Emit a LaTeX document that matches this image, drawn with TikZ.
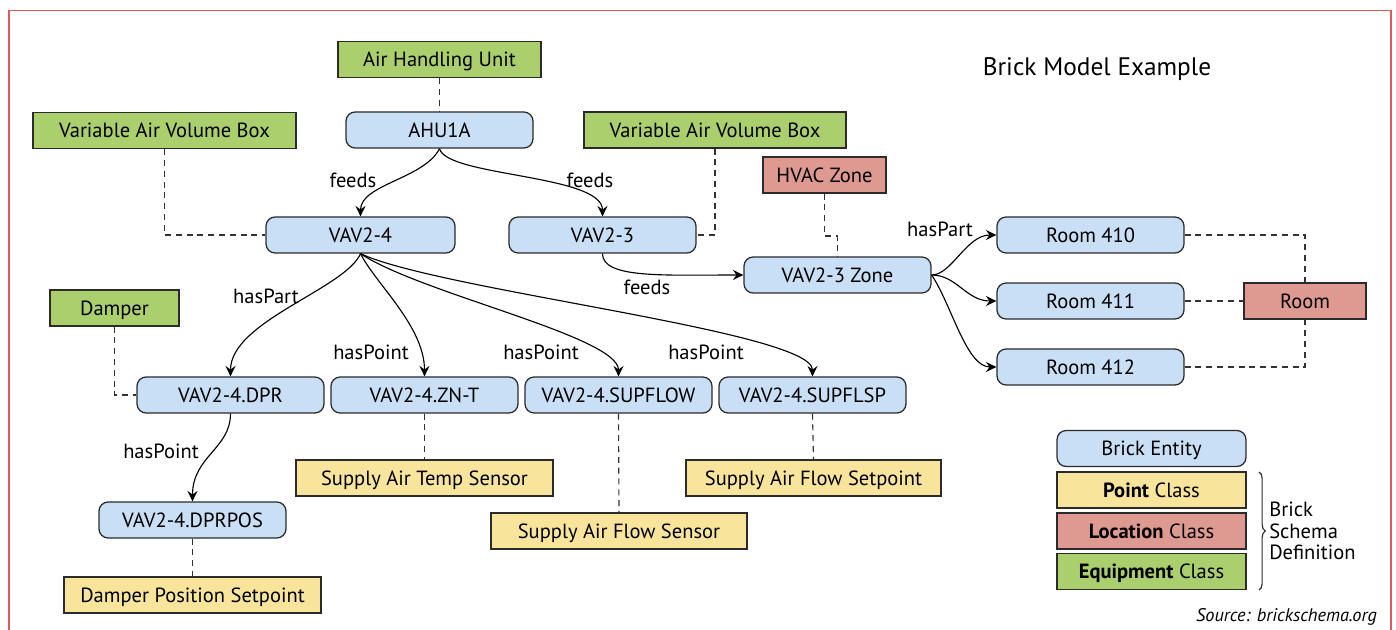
\documentclass[tikz,border=0pt]{standalone}
\usepackage{fontspec}
\setmainfont{PT Sans}
\usetikzlibrary{arrows.meta,decorations.pathreplacing}

\definecolor{entc}{HTML}{C9DFF5}
\definecolor{equipc}{HTML}{AACF6C}
\definecolor{locc}{HTML}{DE9A91}
\definecolor{pointc}{HTML}{F8E59B}
\definecolor{linec}{HTML}{2B2B2B}
\definecolor{dashc}{HTML}{333333}
\definecolor{framec}{HTML}{DD5A5A}

\tikzset{
  txt/.style={font=\fontsize{14.6}{17}\selectfont, text=black},
  boxtxt/.style={txt, text height=10.2pt, text depth=0pt},
  ent/.style={boxtxt, draw=linec, fill=entc, line width=0.9pt, rounded corners=2.3mm,
              minimum height=0.9cm, minimum width=4.675cm, inner sep=0pt},
  cls/.style={boxtxt, draw=linec, fill=#1, line width=0.9pt,
              minimum height=0.9cm, inner sep=0pt},
  wd/.style={minimum width=#1*0.025cm},
  rel/.style={draw=black, line width=0.8pt,
              -{Stealth[length=2.6mm,width=2.5mm,inset=0.9mm]}},
  link/.style={draw=dashc, line width=0.8pt, dash pattern=on 1.5mm off 1.2mm},
  lbl/.style={txt, inner sep=0pt},
}

\begin{document}
\begin{tikzpicture}[x=0.025cm, y=-0.025cm]
\useasboundingbox (0,0) rectangle (1396,630);

% outer frame (open at the bottom)
\draw[framec, line width=1.1pt] (9,630) -- (9,10.5) -- (1391,10.5) -- (1391,630);

% title
\node[lbl, font=\fontsize{18}{21}\selectfont] (title) at (1097,69) {Brick Model Example};

% classes
\node[cls=equipc, wd=203] (ahucls) at (439.5,59.5) {Air Handling Unit};
\node[cls=equipc, wd=263] (vavclsL) at (164.5,130.5) {Variable Air Volume Box};
\node[cls=equipc, wd=262] (vavclsR) at (715,130) {Variable Air Volume Box};
\node[cls=locc, wd=123] (hvaczone) at (824.5,175) {HVAC Zone};
\node[cls=locc, wd=122] (roomcls) at (1305,301) {Room};
\node[cls=equipc, wd=129] (dampercls) at (114.5,308) {Damper};
\node[cls=pointc, wd=257] (tempsens) at (424.5,478) {Supply Air Temp Sensor};
\node[cls=pointc, wd=255] (flowsp) at (813.5,478) {Supply Air Flow Setpoint};
\node[cls=pointc, wd=256] (flowsens) at (619,531) {Supply Air Flow Sensor};
\node[cls=pointc, wd=257] (dprsp) at (192.5,595) {Damper Position Setpoint};

% entities
\node[ent] (ahu) at (439.5,130) {AHU1A};
\node[ent, wd=189] (vav4) at (360.5,235) {VAV2-4};
\node[ent] (vav3) at (602.5,235) {VAV2-3};
\node[ent] (zone) at (837.5,275) {VAV2-3 Zone};
\node[ent] (r410) at (1090.5,235) {Room 410};
\node[ent] (r411) at (1090.5,301) {Room 411};
\node[ent] (r412) at (1090.5,367) {Room 412};
\node[ent] (dpr) at (230.5,395) {VAV2-4.DPR};
\node[ent] (znt) at (424.5,395) {VAV2-4.ZN-T};
\node[ent] (supflow) at (618.5,395) {VAV2-4.SUPFLOW};
\node[ent] (supflsp) at (812.5,395) {VAV2-4.SUPFLSP};
\node[ent] (dprpos) at (192.5,520) {VAV2-4.DPRPOS};

% type links
\draw[link] (ahucls) -- (ahu);
\draw[link] (vavclsL.south) |- (vav4.west);
\draw[link] (vavclsR.south) |- (vav3.east);
\coordinate (zonejog) at (837.5,236);
\draw[link] (hvaczone.south) |- (zonejog) -- (zone.north);
\draw[link] (r410.east) -| (roomcls.north);
\draw[link] (r411.east) -- (roomcls.west);
\draw[link] (r412.east) -| (roomcls.south);
\draw[link] (dampercls.south) |- (dpr.west);
\draw[link] (znt.south) -- (tempsens.north);
\draw[link] (supflow.south) -- (flowsens.north);
\draw[link] (supflsp.south) -- (flowsp.north);
\draw[link] (dprpos.south) -- (dprsp.north);

% relationships
\draw[rel] (ahu.south) .. controls +(-15,30) and +(0,-32) .. (vav4.north);
\draw[rel] (ahu.south) .. controls +(7,28) and +(0,-42) .. (vav3.north);
\draw[rel] (vav3.south) .. controls +(0,25) and +(-80,0) .. (zone.west);
\draw[rel] (vav4.south) .. controls +(-15,35) and +(0,-55) .. (dpr.north);
\draw[rel] (vav4.south) .. controls +(15,30) and +(0,-50) .. (znt.north);
\draw[rel] (vav4.south) .. controls +(60,40) and +(0,-40) .. (supflow.north);
\draw[rel] (vav4.south) .. controls +(79,37) and +(0,-45) .. (supflsp.north);
\draw[rel] (dpr.south) .. controls +(0,35) and +(0,-45) .. (dprpos.north);
\draw[rel] (zone.east) .. controls +(20,0) and +(-30,0) .. (r410.west);
\draw[rel] (zone.east) .. controls +(25,0) and +(-30,0) .. (r411.west);
\draw[rel] (zone.east) .. controls +(20,30) and +(-30,0) .. (r412.west);

% relationship labels
\node[lbl] (l1) at (353,180) {feeds};
\node[lbl] (l2) at (590,180) {feeds};
\node[lbl] (l3) at (647,287) {feeds};
\node[lbl] (l4) at (940,229) {hasPart};
\node[lbl] (l5) at (266,296) {hasPart};
\node[lbl] (l6) at (371,352) {hasPoint};
\node[lbl] (l7) at (541,352) {hasPoint};
\node[lbl] (l8) at (706,352) {hasPoint};
\node[lbl] (l9) at (161,451) {hasPoint};

% legend
\node[ent, wd=189] (legent) at (1151.5,448.5) {Brick Entity};
\node[cls=pointc, wd=189] (legpt) at (1151.5,490) {\textbf{Point} Class};
\node[cls=locc, wd=189] (legloc) at (1151.5,531) {\textbf{Location} Class};
\node[cls=equipc, wd=189] (legeq) at (1151.5,571.5) {\textbf{Equipment} Class};
\draw[linec, line width=0.8pt, decorate, decoration={brace, amplitude=4.5pt}]
  (1259,472) -- (1259,590);
\node[lbl, anchor=west, align=left, font=\fontsize{14.6}{15.3}\selectfont] (schema) at (1269,531)
  {Brick\\Schema\\Definition};
\node[lbl, anchor=east, font=\fontsize{13}{15}\selectfont\itshape] (src) at (1377,617)
  {Source: brickschema.org};
\end{tikzpicture}
\end{document}
